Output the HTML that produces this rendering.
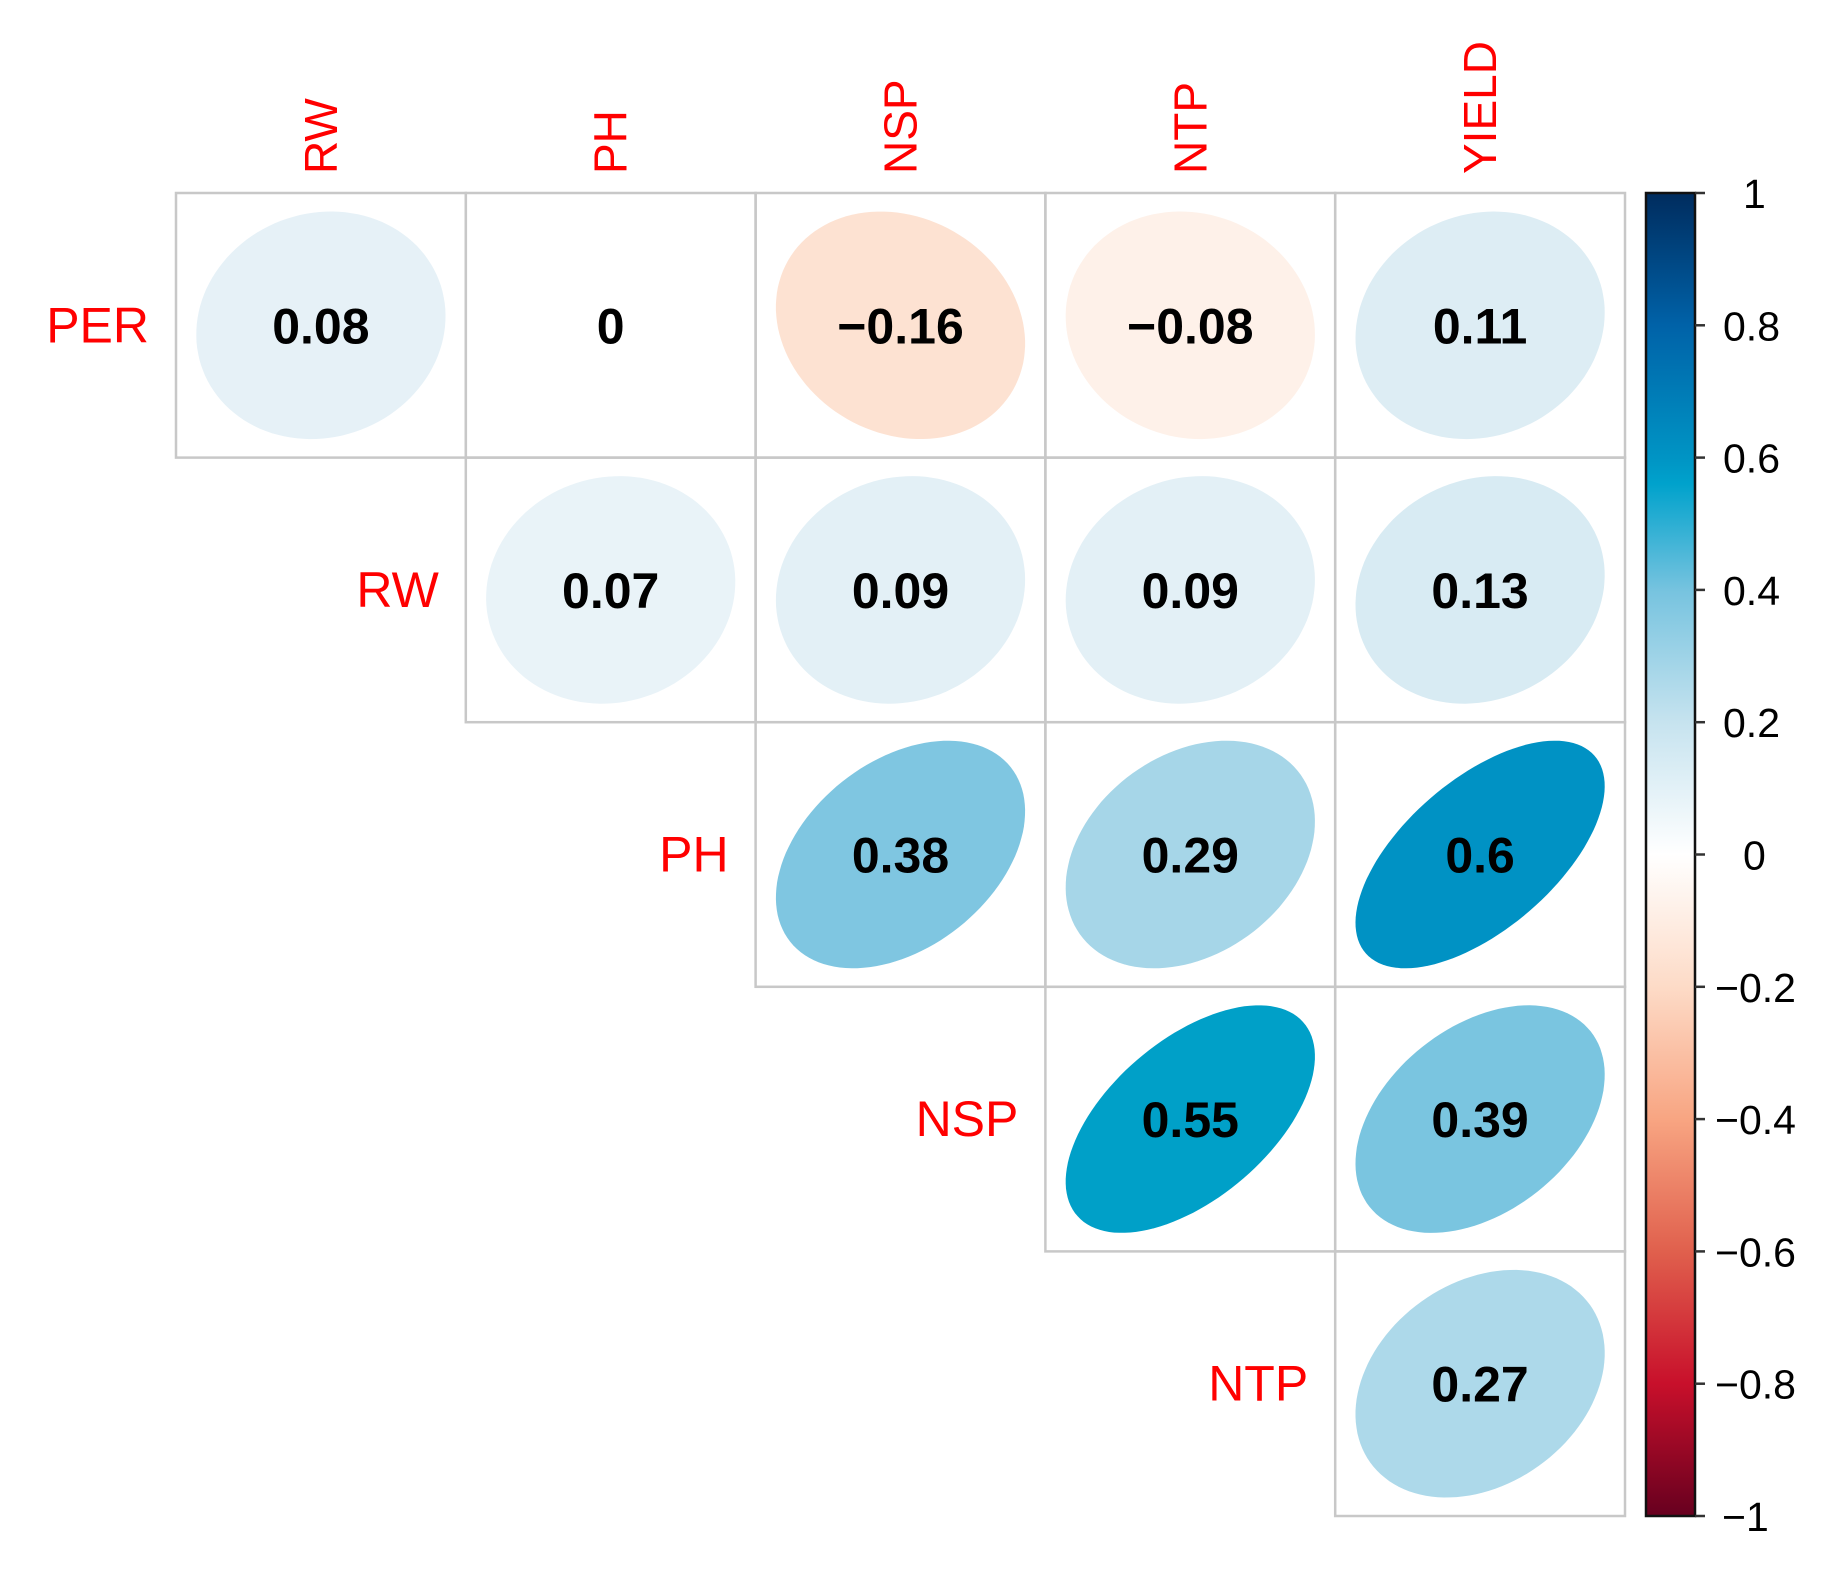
<!DOCTYPE html>
<html><head><meta charset="utf-8"><style>
html,body{margin:0;padding:0;background:#fff;}
svg{display:block;}
</style></head><body>
<svg id="chart" width="1846" height="1576" xmlns="http://www.w3.org/2000/svg" font-family="Liberation Sans, Arial, sans-serif">
<defs>
<linearGradient id="cbgrad" x1="0" y1="1" x2="0" y2="0">
<stop offset="0" stop-color="#67001F"/>
<stop offset="0.1" stop-color="#C8102B"/>
<stop offset="0.2" stop-color="#E0604D"/>
<stop offset="0.3" stop-color="#F8A582"/>
<stop offset="0.4" stop-color="#FDDBC7"/>
<stop offset="0.5" stop-color="#FFFFFF"/>
<stop offset="0.6" stop-color="#C6E3EF"/>
<stop offset="0.7" stop-color="#76C3DF"/>
<stop offset="0.78" stop-color="#00A2CC"/>
<stop offset="0.8" stop-color="#0094C4"/>
<stop offset="0.9" stop-color="#0062A8"/>
<stop offset="1" stop-color="#002C5E"/>
</linearGradient>
</defs>
<g id="grid"></g>
<g id="marks"></g>
<g id="labels"></g>
<g id="colorbar"></g>
</svg>
<script>
const rowLabels = ["PER","RW","PH","NSP","NTP"];
const colLabels = ["RW","PH","NSP","NTP","YIELD"];
const corrRows = [
  [0.08, 0, -0.16, -0.08, 0.11],
  [null, 0.07, 0.09, 0.09, 0.13],
  [null, null, 0.38, 0.29, 0.6],
  [null, null, null, 0.55, 0.39],
  [null, null, null, null, 0.27]
];
const cbTicks = [1,0.8,0.6,0.4,0.2,0,-0.2,-0.4,-0.6,-0.8,-1];

const NS="http://www.w3.org/2000/svg";
const X0=176, X1=1625, Y0=193, Y1=1516;
const cw=(X1-X0)/5, ch=(Y1-Y0)/5;
const colX=j=>X0+j*cw, rowY=i=>Y0+i*ch;
const CB_TOP=193, CB_BOT=1516, CB_L=1646, CB_R=1695;
const cbY=v=>CB_TOP+(1-v)/2*(CB_BOT-CB_TOP);

const stops=[[-1,[103,0,31]],[-0.8,[200,16,43]],[-0.6,[224,96,77]],[-0.4,[248,165,130]],[-0.2,[253,219,199]],[0,[255,255,255]],[0.1,[224,238,245]],[0.2,[198,227,239]],[0.29,[166,214,232]],[0.4,[118,195,223]],[0.55,[0,160,200]],[0.6,[0,146,196]],[0.8,[0,98,168]],[1,[0,44,94]]];
function color(v){
  for(let k=0;k<stops.length-1;k++){
    const [a,ca]=stops[k],[b,cb]=stops[k+1];
    if(v>=a&&v<=b){const t=(v-a)/(b-a);
      return "rgb("+ca.map((c,i)=>Math.round(c+(cb[i]-c)*t)).join(",")+")";}
  }
  return "#fff";
}
function mk(tag,attrs,parent){const e=document.createElementNS(NS,tag);for(const k in attrs)e.setAttribute(k,attrs[k]);parent.appendChild(e);return e;}
const grid=document.getElementById('grid'),marks=document.getElementById('marks'),labels=document.getElementById('labels'),cb=document.getElementById('colorbar');

corrRows.forEach((row,i)=>{
  row.forEach((v,j)=>{
    if(v===null)return;
    const x=colX(j),y=rowY(i);
    const r=mk('rect',{x:x,y:y,width:cw,height:ch,fill:'none',stroke:'#C8C8C8','stroke-width':2.5},grid);
    
    
    const cx=x+cw/2, cy=y+ch/2, sx=cw*0.43, sy=ch*0.43, d=Math.acos(v);
    let pts=[];
    for(let t=0;t<360;t+=3){const a=t*Math.PI/180;
      pts.push((cx+sx*Math.cos(a+d/2)).toFixed(1)+","+(cy-sy*Math.cos(a-d/2)).toFixed(1));}
    const p=mk('polygon',{points:pts.join(" "),fill:color(v)},marks);
    
    
    const t=mk('text',{x:cx,y:cy+18,'text-anchor':'middle','font-size':50,'font-weight':'bold',fill:'#000'},marks);
    t.textContent=(v<0?"\u2212":"")+String(Math.abs(v));
    
    
  });
  const rl=mk('text',{x:colX(i)-27,y:rowY(i)+ch/2+17,'text-anchor':'end','font-size':50,fill:'#FF0000'},labels);
  rl.textContent=rowLabels[i];
  
  
});
colLabels.forEach((c,j)=>{
  const x=colX(j)+cw/2+16, y=Y0-19;
  const t=mk('text',{x:x,y:y,transform:'rotate(-90 '+x+' '+y+')','font-size':46,fill:'#FF0000'},labels);
  t.textContent=c;
  
  
});
const bar=mk('rect',{x:CB_L,y:CB_TOP,width:CB_R-CB_L,height:CB_BOT-CB_TOP,fill:'url(#cbgrad)',stroke:'#111','stroke-width':2.5},cb);


cbTicks.forEach(v=>{
  const y=cbY(v);
  const l=mk('line',{x1:CB_R,x2:CB_R+10,y1:y,y2:y,stroke:'#333','stroke-width':2.5},cb);
  
  
  const t=mk('text',{x:v<0?(v===-1?1722:1715):(v===0||v===1?1743:1723),y:y+15,'font-size':41,fill:'#000'},cb);
  t.textContent=(v<0?"\u2212":"")+Math.abs(v);
  
  
});
</script>
</body></html>
